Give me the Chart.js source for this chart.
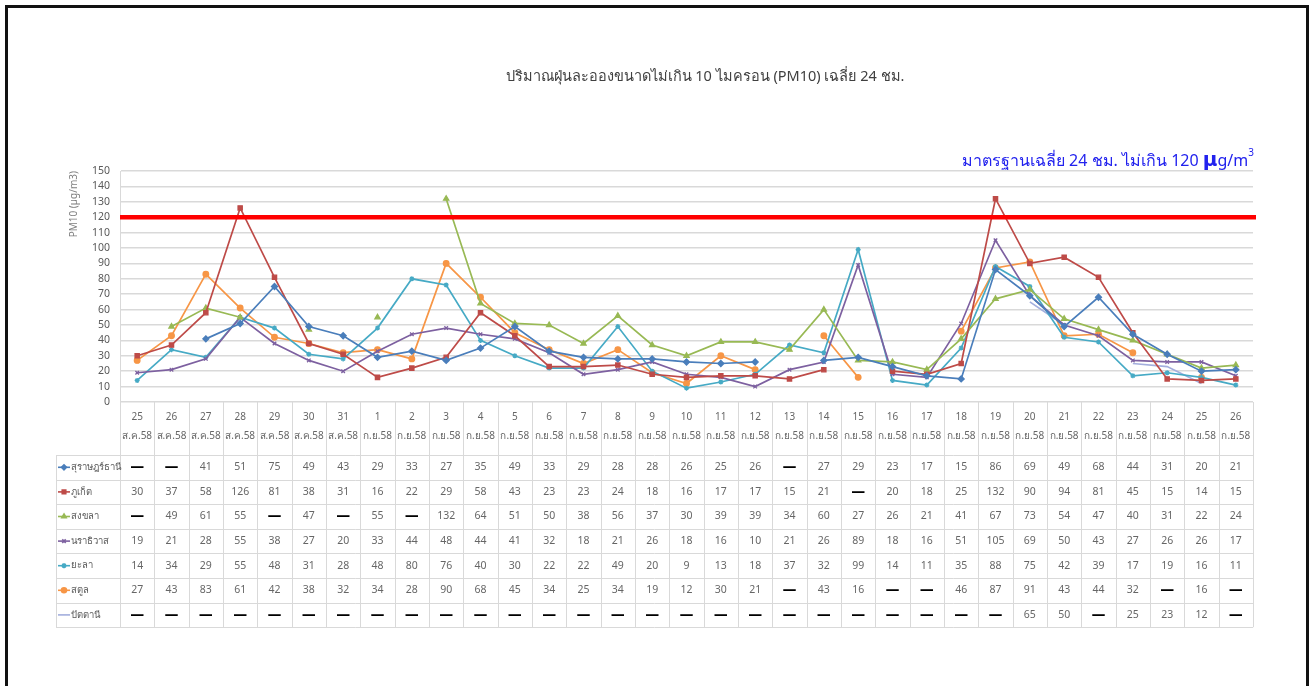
<!DOCTYPE html>
<html>
<head>
<meta charset="utf-8">
<script src="https://cdn.jsdelivr.net/npm/chart.js@4.4.1/dist/chart.umd.min.js"></script>
<style>
  body { margin: 0; background: #fff; }
  #wrap { position: relative; width: 1314px; height: 686px; overflow: hidden; }
  #frame { position: absolute; left: 5px; top: 5px; width: 1298px; height: 700px; border: 3px solid #111; pointer-events: none; }
  canvas { position: absolute; left: 0; top: 0; }
</style>
</head>
<body>
<div id="wrap">
  <canvas id="pm10-chart" width="1314" height="686"></canvas>
  <div id="frame"></div>
</div>
<script>
// days and months for the x axis (Thai Buddhist year 2558)
const days = [25, 26, 27, 28, 29, 30, 31, 1, 2, 3, 4, 5, 6, 7, 8, 9, 10, 11, 12, 13, 14, 15, 16, 17, 18, 19, 20, 21, 22, 23, 24, 25, 26];
const months = ["ส.ค.58", "ส.ค.58", "ส.ค.58", "ส.ค.58", "ส.ค.58", "ส.ค.58", "ส.ค.58",
  "ก.ย.58", "ก.ย.58", "ก.ย.58", "ก.ย.58", "ก.ย.58", "ก.ย.58", "ก.ย.58", "ก.ย.58", "ก.ย.58", "ก.ย.58",
  "ก.ย.58", "ก.ย.58", "ก.ย.58", "ก.ย.58", "ก.ย.58", "ก.ย.58", "ก.ย.58", "ก.ย.58", "ก.ย.58", "ก.ย.58",
  "ก.ย.58", "ก.ย.58", "ก.ย.58", "ก.ย.58", "ก.ย.58", "ก.ย.58"];

// PM10 24h averages (µg/m3), null = no data
const suratThani = [null, null, 41, 51, 75, 49, 43, 29, 33, 27, 35, 49, 33, 29, 28, 28, 26, 25, 26, null, 27, 29, 23, 17, 15, 86, 69, 49, 68, 44, 31, 20, 21];
const phuket = [30, 37, 58, 126, 81, 38, 31, 16, 22, 29, 58, 43, 23, 23, 24, 18, 16, 17, 17, 15, 21, null, 20, 18, 25, 132, 90, 94, 81, 45, 15, 14, 15];
const songkhla = [null, 49, 61, 55, null, 47, null, 55, null, 132, 64, 51, 50, 38, 56, 37, 30, 39, 39, 34, 60, 27, 26, 21, 41, 67, 73, 54, 47, 40, 31, 22, 24];
const narathiwat = [19, 21, 28, 55, 38, 27, 20, 33, 44, 48, 44, 41, 32, 18, 21, 26, 18, 16, 10, 21, 26, 89, 18, 16, 51, 105, 69, 50, 43, 27, 26, 26, 17];
const yala = [14, 34, 29, 55, 48, 31, 28, 48, 80, 76, 40, 30, 22, 22, 49, 20, 9, 13, 18, 37, 32, 99, 14, 11, 35, 88, 75, 42, 39, 17, 19, 16, 11];
const satun = [27, 43, 83, 61, 42, 38, 32, 34, 28, 90, 68, 45, 34, 25, 34, 19, 12, 30, 21, null, 43, 16, null, null, 46, 87, 91, 43, 44, 32, null, 16, null];
const pattani = [null, null, null, null, null, null, null, null, null, null, null, null, null, null, null, null, null, null, null, null, null, null, null, null, null, null, 65, 50, null, 25, 23, 12, null];

// 24h standard
const standard = 120;

const FONT = "'Noto Sans', sans-serif";
const labels = days.map((d, i) => [String(d), months[i]]);

function series(label, data, color, pointStyle, radius) {
  return {
    label: label,
    data: data,
    borderColor: color,
    backgroundColor: color,
    borderWidth: 1.7,
    pointStyle: pointStyle,
    pointRadius: radius,
    pointBorderWidth: 1.3,
    tension: 0,
    spanGaps: false,
  };
}

// draws the standard line, header texts and the data table under the plot
const sheetPlugin = {
  id: "sheet",
  afterDatasetsDraw(chart) {
    const ctx = chart.ctx;
    const y = chart.scales.y;
    const area = chart.chartArea;
    const py = y.getPixelForValue(standard);
    ctx.save();
    ctx.strokeStyle = "#FF0000";
    ctx.lineWidth = 4.5;
    ctx.beginPath();
    ctx.moveTo(area.left, py);
    ctx.lineTo(area.right + 3, py);
    ctx.stroke();
    ctx.restore();
  },
  afterDraw(chart) {
    const ctx = chart.ctx;
    const x = chart.scales.x;
    const area = chart.chartArea;
    const n = labels.length;
    const colW = (area.right - area.left) / n;
    const headTop = area.bottom;
    const rowTop = headTop + 53;
    const rowH = 24.6;
    const nRows = chart.data.datasets.length;
    const tableBottom = rowTop + rowH * nRows;
    const legLeft = 56;

    ctx.save();
    // grid
    ctx.strokeStyle = "#D9D9D9";
    ctx.lineWidth = 1;
    ctx.beginPath();
    for (let i = 0; i <= n; i++) {
      const gx = Math.round(area.left + colW * i) + 0.5;
      ctx.moveTo(gx, headTop);
      ctx.lineTo(gx, tableBottom);
    }
    ctx.moveTo(legLeft + 0.5, rowTop);
    ctx.lineTo(legLeft + 0.5, tableBottom);
    for (let r = 0; r <= nRows; r++) {
      const gy = Math.round(rowTop + rowH * r) + 0.5;
      ctx.moveTo(legLeft, gy);
      ctx.lineTo(area.right, gy);
    }
    ctx.stroke();

    // rows
    chart.data.datasets.forEach((ds, r) => {
      const cy = rowTop + rowH * (r + 0.5);
      // legend key
      ctx.strokeStyle = ds.borderColor;
      ctx.fillStyle = ds.backgroundColor;
      ctx.lineWidth = 1.6;
      ctx.beginPath();
      ctx.moveTo(legLeft + 2, cy);
      ctx.lineTo(legLeft + 14, cy);
      ctx.stroke();
      if (ds.pointRadius > 0) {
        Chart.helpers.drawPoint(ctx, { pointStyle: ds.pointStyle, radius: 2.5, borderWidth: 1.2, rotation: 0 }, legLeft + 8, cy);
      }
      ctx.fillStyle = "#595959";
      ctx.font = "9.5px " + FONT;
      ctx.textAlign = "left";
      ctx.textBaseline = "middle";
      ctx.fillText(ds.label, legLeft + 15, cy);

      // values
      ds.data.forEach((v, i) => {
        const cx = x.getPixelForValue(i);
        ctx.textAlign = "center";
        if (v === null) {
          ctx.fillStyle = "#000";
          ctx.font = "bold 14px 'DejaVu Sans', sans-serif";
          ctx.fillText("—", cx, cy);
        } else {
          ctx.fillStyle = "#666666";
          ctx.font = "10.5px " + FONT;
          ctx.fillText(String(v), cx, cy);
        }
      });
    });

    // chart title
    ctx.fillStyle = "#404040";
    ctx.font = "14.5px " + FONT;
    ctx.textAlign = "center";
    ctx.textBaseline = "middle";
    ctx.fillText("ปริมาณฝุ่นละอองขนาดไม่เกิน 10 ไมครอน (PM10) เฉลี่ย 24 ชม.", 705, 77);

    // standard note, right aligned
    const parts = [
      { t: "มาตรฐานเฉลี่ย 24 ชม. ไม่เกิน " + standard + " ", f: "16px " + FONT, dy: 0 },
      { t: "µ", f: "bold 20px 'DejaVu Sans', sans-serif", dy: 0 },
      { t: "g/m", f: "16px " + FONT, dy: 0 },
      { t: "3", f: "10px " + FONT, dy: -10 },
    ];
    let total = 0;
    parts.forEach((p) => { ctx.font = p.f; p.w = ctx.measureText(p.t).width; total += p.w; });
    let tx = 1254 - total;
    ctx.fillStyle = "#2222EE";
    ctx.textAlign = "left";
    ctx.textBaseline = "alphabetic";
    parts.forEach((p) => {
      ctx.font = p.f;
      ctx.fillText(p.t, tx, 166 + p.dy);
      tx += p.w;
    });
    ctx.restore();
  },
};

const ctx = document.getElementById("pm10-chart").getContext("2d");

new Chart(ctx, {
  type: "line",
  data: {
    labels: labels,
    datasets: [
      series("สุราษฎร์ธานี", suratThani, "#4A7EBB", "rectRot", 3),
      series("ภูเก็ต", phuket, "#BE4B48", "rect", 3),
      series("สงขลา", songkhla, "#98B954", "triangle", 3),
      series("นราธิวาส", narathiwat, "#7D60A0", "crossRot", 2.5),
      series("ยะลา", yala, "#46AAC5", "star", 2.5),
      series("สตูล", satun, "#F79646", "circle", 2.8),
      series("ปัตตานี", pattani, "#A3AEDD", "cross", 0),
    ],
  },
  options: {
    responsive: false,
    animation: false,
    devicePixelRatio: 1,
    layout: { padding: { left: 58, right: 61, top: 171, bottom: 58 } },
    plugins: {
      legend: { display: false },
      title: { display: false },
      tooltip: { enabled: false },
    },
    scales: {
      x: {
        offset: true,
        grid: { display: false, drawTicks: false },
        border: { display: false },
        ticks: {
          autoSkip: false,
          maxRotation: 0,
          minRotation: 0,
          padding: 6,
          color: "#666666",
          font: { family: FONT, size: 10, lineHeight: 1.9 },
        },
        afterFit(scale) {
          scale.height = 226;
        },
      },
      y: {
        min: 0,
        max: 150,
        grid: { color: "#D9D9D9", lineWidth: 1.5, drawTicks: false },
        border: { display: true, color: "#D9D9D9" },
        ticks: {
          stepSize: 10,
          autoSkip: false,
          padding: 10,
          color: "#595959",
          font: { family: FONT, size: 10.5 },
        },
        title: {
          display: true,
          text: "PM10 (µg/m3)",
          align: "end",
          color: "#7F7F7F",
          font: { family: FONT, size: 10 },
          padding: { top: 10, bottom: 0 },
        },
        afterFit(scale) {
          scale.width = 62;
        },
      },
    },
  },
  plugins: [sheetPlugin],
});
</script>
</body>
</html>
